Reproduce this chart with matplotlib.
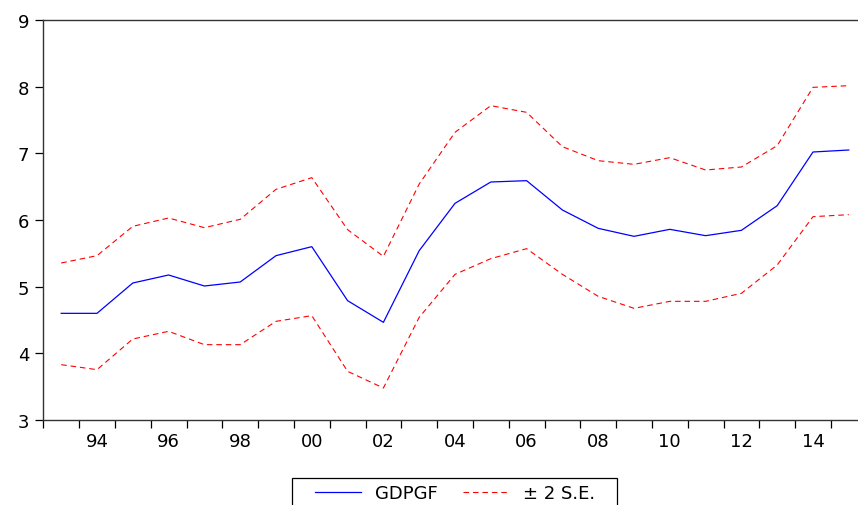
import matplotlib.pyplot as plt
import numpy as np
from matplotlib.ticker import FixedLocator
from matplotlib.patches import Rectangle

plt.rcParams['font.family'] = ['DejaVu Sans']

years = list(range(1993, 2016))
gdpgf = [4.60, 4.60, 5.055, 5.175, 5.01, 5.07, 5.465, 5.60, 4.79, 4.465, 5.54,
         6.25, 6.57, 6.59, 6.15, 5.875, 5.755, 5.86, 5.765, 5.845, 6.215, 7.02, 7.05]
upper = [5.355, 5.465, 5.905, 6.03, 5.885, 6.01, 6.46, 6.635, 5.855, 5.455, 6.54,
         7.315, 7.715, 7.615, 7.10, 6.89, 6.835, 6.935, 6.75, 6.795, 7.115, 7.99, 8.015]
lower = [3.83, 3.755, 4.215, 4.33, 4.13, 4.13, 4.48, 4.565, 3.73, 3.48, 4.54,
         5.185, 5.42, 5.57, 5.185, 4.855, 4.675, 4.78, 4.78, 4.90, 5.325, 6.05, 6.08]
tick_years = list(range(1994, 2015, 2))
tick_labels = ['%02d' % (y % 100) for y in tick_years]

fig = plt.figure(figsize=(8.58, 5.06), dpi=100)
ax = fig.add_axes([43.3 / 858, 1 - 421 / 506, 1 - 43.3 / 858, 400 / 506])

ax.plot(years, gdpgf, color='#0000ff', lw=0.9, label='GDPGF')
ax.plot(years, upper, color='#ff0000', lw=0.8, ls=(0, (5, 3.5)), label='± 2 S.E.')
ax.plot(years, lower, color='#ff0000', lw=0.8, ls=(0, (5, 3.5)))

# year axis: labels at year centres, ticks at year boundaries
ax.set_xlim(1992.5, 1992.5 + (858 - 43.3) / 35.8)
ax.set_ylim(3, 9)
ax.set_xticks(tick_years)
ax.set_xticklabels(tick_labels, fontsize=13)
ax.xaxis.set_minor_locator(FixedLocator(np.arange(1992.5, 2016, 1.0)))
ax.tick_params(axis='x', which='major', length=0, pad=9)
ax.tick_params(axis='x', which='minor', length=6, direction='out', width=0.9)
ax.set_yticks(range(3, 10))
ax.tick_params(axis='y', length=6, direction='out', width=0.9, pad=4, labelsize=13)

for s in ['top', 'left', 'bottom']:
    ax.spines[s].set_color('#333333')
    ax.spines[s].set_linewidth(1.0)
ax.spines['right'].set_visible(False)

# legend box (runs off the bottom edge like the original)
fig.patches.append(Rectangle((292 / 858, -0.05), 325 / 858, 0.05 + 1 - 479 / 506,
                             transform=fig.transFigure, fill=False,
                             edgecolor='black', lw=0.9))
fig.legend(loc='center', bbox_to_anchor=(455 / 858, 1 - 494 / 506), ncol=2,
           frameon=False, fontsize=13, handlelength=2.55, handletextpad=0.8,
           columnspacing=1.35, borderpad=0, borderaxespad=0)

fig.savefig('out.png', dpi=100)
